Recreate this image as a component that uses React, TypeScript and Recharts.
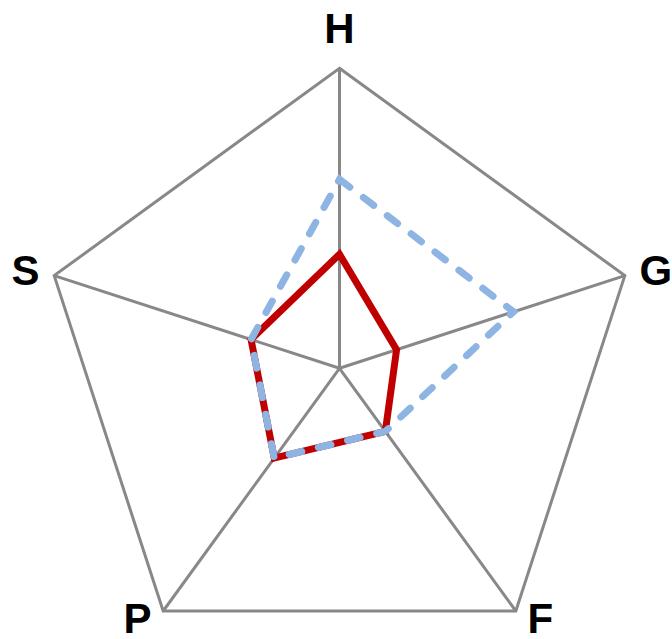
import { PolarAngleAxis, PolarGrid, PolarRadiusAxis, Radar, RadarChart } from "recharts";

// axes in clockwise order from the top
const AXES = ["H", "G", "F", "P", "S"];
const SOLID_VALUES = [38, 20, 26, 37, 31];
const DASHED_VALUES = [63, 61, 26, 37, 31];

const data = AXES.map((axis, i) => ({
  axis,
  solid: SOLID_VALUES[i],
  dashed: DASHED_VALUES[i],
}));

const CX = 339.5;
const CY = 368.3;

function AxisLabel(props: any) {
  const { x, y, payload, textAnchor } = props;
  let dx = 0;
  let dy = -17;
  if (textAnchor === "start") dx = 7;
  if (textAnchor === "end") dx = -7;
  if (textAnchor !== "middle") dy = y < CY ? 12 : 16;
  return (
    <text
      x={x + dx}
      y={y + dy}
      textAnchor={textAnchor}
      fontFamily="'Liberation Sans', Arial, sans-serif"
      fontWeight="bold"
      fontSize={42}
      fill="#000"
    >
      {payload.value}
    </text>
  );
}

export default function App() {
  return (
    <div style={{ position: "absolute", left: 0, top: 0, background: "#fff" }}>
      <RadarChart
        width={672}
        height={639}
        cx={CX}
        cy={CY}
        outerRadius={300}
        data={data}
        margin={{ top: 0, right: 0, bottom: 0, left: 0 }}
      >
        <PolarGrid gridType="polygon" polarRadius={[300]} stroke="#888" strokeWidth={3} />
        <PolarAngleAxis dataKey="axis" tick={<AxisLabel />} tickLine={false} axisLine={false} />
        <PolarRadiusAxis domain={[0, 100]} tick={false} axisLine={false} />
        <Radar
          dataKey="solid"
          stroke="#C00000"
          strokeWidth={7}
          fill="none"
          fillOpacity={0}
          isAnimationActive={false}
        />
        <Radar
          dataKey="dashed"
          stroke="#8DB4E2"
          strokeWidth={7}
          strokeDasharray="13 17"
          strokeLinecap="round"
          fill="none"
          fillOpacity={0}
          isAnimationActive={false}
        />
      </RadarChart>
    </div>
  );
}
